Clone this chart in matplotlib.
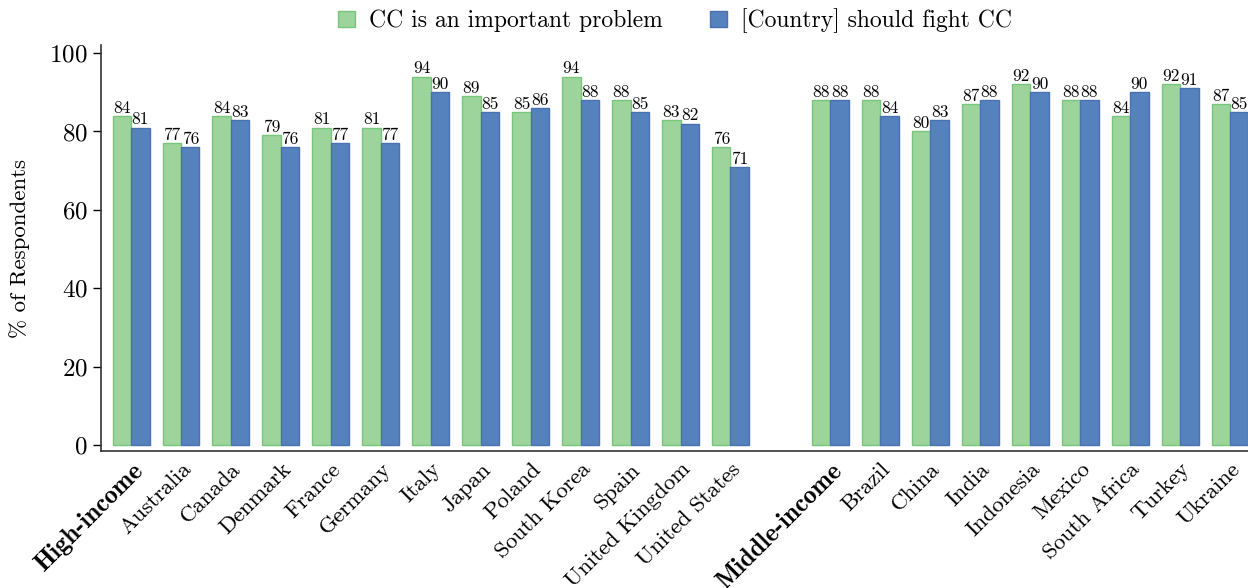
import matplotlib
matplotlib.use("Agg")
import matplotlib.pyplot as plt
import numpy as np

plt.rcParams['font.family'] = ['cmr10', 'DejaVu Serif']
plt.rcParams['mathtext.fontset'] = 'cm'
plt.rcParams['axes.formatter.use_mathtext'] = True

categories = ["High-income", "Australia", "Canada", "Denmark", "France", "Germany",
              "Italy", "Japan", "Poland", "South Korea", "Spain", "United Kingdom",
              "United States", "",
              "Middle-income", "Brazil", "China", "India", "Indonesia", "Mexico",
              "South Africa", "Turkey", "Ukraine"]
important = [84, 77, 84, 79, 81, 81, 94, 89, 85, 94, 88, 83, 76, None,
             88, 88, 80, 87, 92, 88, 84, 92, 87]
fight = [81, 76, 83, 76, 77, 77, 90, 85, 86, 88, 85, 82, 71, None,
         88, 84, 83, 88, 90, 88, 90, 91, 85]
series_names = ["CC is an important problem", "[Country] should fight CC"]
bold_labels = ["High-income", "Middle-income"]

fig = plt.figure(figsize=(12.48, 5.88), dpi=100)
ax = fig.add_axes([0.081, 0.233, 0.919, 0.690])

w = 0.37
x = np.arange(len(categories))
idx = [i for i, v in enumerate(important) if v is not None]
imp = np.array([important[i] for i in idx], float)
fgt = np.array([fight[i] for i in idx], float)
xi = x[idx]

b1 = ax.bar(xi - w/2, imp, w, color="#9dd49c", edgecolor="#78c67a", linewidth=1.0,
            label=series_names[0])
b2 = ax.bar(xi + w/2, fgt, w, color="#5582bc", edgecolor="#4a72b0", linewidth=1.0,
            label=series_names[1])

for bars, vals in ((b1, imp), (b2, fgt)):
    for r, v in zip(bars, vals):
        ax.text(r.get_x() + r.get_width()/2, r.get_height() + 0.05, f"{v:.0f}",
                ha="center", va="bottom", fontsize=12.5)

ax.set_xlim(-0.6, 22.36)
ax.set_ylim(-1.53, 102.0)
ax.set_yticks([0, 20, 40, 60, 80, 100])
ax.tick_params(axis='y', labelsize=18, length=6, width=1, direction='out')
ax.set_ylabel("% of Respondents", fontsize=16.5, labelpad=14)

ticks = [i for i, c in enumerate(categories) if c]
ax.set_xticks(ticks)
ax.set_xticklabels([categories[i] for i in ticks], rotation=45, ha='right',
                   rotation_mode='anchor', fontsize=16.5)
ax.tick_params(axis='x', length=0, pad=6)
for lab in ax.get_xticklabels():
    if lab.get_text() in bold_labels:
        lab.set_fontfamily(['cmb10', 'DejaVu Serif'])
        lab.set_fontweight('bold')
        lab.set_fontsize(18.5)

for s in ['top', 'right']:
    ax.spines[s].set_visible(False)
for s in ['left', 'bottom']:
    ax.spines[s].set_color('#333333')
    ax.spines[s].set_linewidth(1.2)

fig.legend(handles=[b1, b2], labels=series_names, loc='center',
           bbox_to_anchor=(0.541, 0.965), ncol=2, frameon=False, fontsize=17,
           handlelength=0.7, handleheight=0.7, columnspacing=2.0, handletextpad=0.6)

fig.savefig("out.png", dpi=100)
